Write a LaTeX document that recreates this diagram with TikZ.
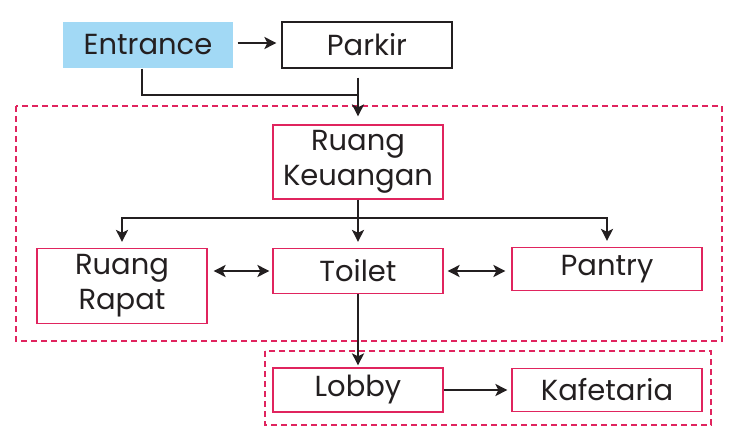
\documentclass[tikz,border=0pt]{standalone}
\usepackage{fontspec}
\setmainfont{Poppins}
\usetikzlibrary{arrows.meta}

\definecolor{ink}{HTML}{231F20}
\definecolor{rose}{HTML}{E0245E}
\definecolor{sky}{HTML}{A2D9F5}

\begin{document}
\begin{tikzpicture}[x=0.5pt, y=-0.5pt,
    room/.style={draw=rose, line width=0.6pt, inner sep=0pt, align=center,
        font=\fontsize{14.5}{17.5}\selectfont, text=ink},
    arr/.style={draw=ink, line width=1.1pt, -{Stealth[length=6pt, width=6pt, inset=1.5pt]}},
    darr/.style={arr, {Stealth[length=6pt, width=6pt, inset=1.5pt]}-{Stealth[length=6pt, width=6pt, inset=1.5pt]}},
    wire/.style={draw=ink, line width=1.1pt},
    zone/.style={draw=rose, line width=1.2pt, dash pattern=on 3pt off 2pt}]
\useasboundingbox (0,0) rectangle (732,427);

% the rooms
\node (ent) [room, draw=none, fill=sky, minimum width=85pt, minimum height=23pt] at (148,45) {Entrance};
\node (parkir) [room, draw=ink, minimum width=85pt, minimum height=23pt] at (367,45) {Parkir};
\node (keu) [room, minimum width=85pt, minimum height=37pt] at (358,162) {Ruang\\Keuangan};
\node (rapat) [room, minimum width=85pt, minimum height=37.5pt] at (122,286) {Ruang\\Rapat};
\node (toilet) [room, minimum width=85pt, minimum height=22.5pt] at (358,271) {Toilet};
\node (pantry) [room, minimum width=95pt, minimum height=21.5pt] at (607,269) {Pantry};
\node (lobby) [room, minimum width=85pt, minimum height=22pt] at (358,390) {Lobby};
\node (kafe) [room, minimum width=95pt, minimum height=21.5pt] at (607,390) {Kafetaria};

% the zones
\draw[zone] (16,106) rectangle (722,341);
\draw[zone] (265,351) rectangle (711,425);

% way in
\draw[arr, shorten <=2pt, shorten >=2.5pt] (ent.east |- 0,43) -- (parkir.west |- 0,43);
\coordinate (join) at (358,95);
\draw[wire] ([xshift=-3pt]ent.south) |- (join);
\draw[arr, shorten >=4pt] ([yshift=-4.5pt]parkir.south -| keu.north) -- (keu.north);

% branches below the finance room
\coordinate (br) at (358,218);
\draw[wire] (keu.south) -- (br);
\foreach \n in {rapat,toilet,pantry}
    \draw[arr, shorten >=3pt] (br) -| (\n.north);

\draw[darr, shorten <=3pt, shorten >=1.5pt] (rapat.east |- toilet) -- (toilet.west);
\draw[darr, shorten <=2pt, shorten >=3pt] (toilet.east) -- (pantry.west |- toilet);

% down to the lobby
\draw[arr, shorten >=1pt] (toilet.south) -- (lobby.north);
\draw[arr, shorten >=2pt] (lobby.east) -- (kafe.west);

\end{tikzpicture}
\end{document}
